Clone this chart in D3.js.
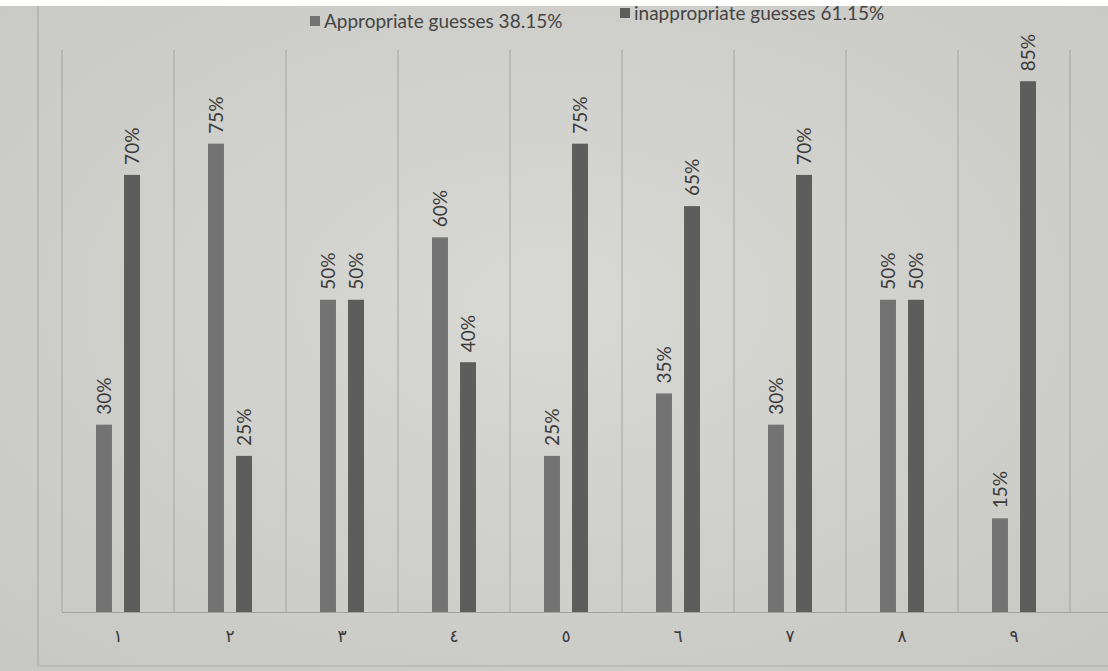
<!DOCTYPE html>
<html>
<head>
<meta charset="utf-8">
<script src="https://cdn.jsdelivr.net/npm/d3@7"></script>
<style>
  html, body { margin: 0; padding: 0; background: #cfcfcb; }
  svg { display: block; }
</style>
</head>
<body>
<svg id="chart" width="1108" height="671"></svg>
<script>
// Question numbers (Arabic-Indic digits) and the share of each answer type
const categories = ['١', '٢', '٣', '٤', '٥', '٦', '٧', '٨', '٩'];
const appropriate = [30, 75, 50, 60, 25, 35, 30, 50, 15];
const inappropriate = [70, 25, 50, 40, 75, 65, 70, 50, 85];
const seriesNames = ['Appropriate guesses 38.15%', 'inappropriate guesses 61.15%'];
const seriesColors = ['#737373', '#5d5d5d'];

const W = 1108, H = 671;
const svg = d3.select('#chart');
const font = 'Lato, "Open Sans", sans-serif';

// paper background with a slightly lighter middle
const defs = svg.append('defs');
const grad = defs.append('radialGradient').attr('id', 'paper')
  .attr('cx', '50%').attr('cy', '45%').attr('r', '70%');
grad.append('stop').attr('offset', '0%').attr('stop-color', '#d8d8d4');
grad.append('stop').attr('offset', '100%').attr('stop-color', '#c8c8c4');
svg.append('rect').attr('width', W).attr('height', H).attr('fill', 'url(#paper)');

// white strip along the top edge
svg.append('rect').attr('x', 0).attr('y', 0).attr('width', W).attr('height', 6).attr('fill', '#ffffff');

const plot = { left: 62, right: 1070, top: 50, bottom: 612 };

const x0 = d3.scaleBand().domain(categories).range([plot.left, plot.right]).padding(0);
const mid = x0.bandwidth() / 2;
const x1 = d3.scaleBand().domain([0, 1]).range([mid - 22, mid + 22]).paddingInner(0.43).paddingOuter(0);
const y = d3.scaleLinear().domain([0, 90]).range([plot.bottom, plot.top]);

// outer frame of the chart
svg.append('line').attr('x1', 38).attr('x2', 38).attr('y1', 6).attr('y2', 666)
  .attr('stroke', '#a9a9a6').attr('stroke-width', 1.2);
svg.append('line').attr('x1', 38).attr('x2', W).attr('y1', 666).attr('y2', 666)
  .attr('stroke', '#a9a9a6').attr('stroke-width', 1.2);

// category separators
const seps = categories.map(c => x0(c)).concat([plot.right]);
svg.append('g').selectAll('line').data(seps).join('line')
  .attr('x1', d => d).attr('x2', d => d)
  .attr('y1', plot.top).attr('y2', plot.bottom)
  .attr('stroke', '#a3a3a0').attr('stroke-width', 1);

// category axis
const xAxis = d3.axisBottom(x0).tickSize(0).tickPadding(18);
const gx = svg.append('g').attr('transform', `translate(0,${plot.bottom})`).call(xAxis);
gx.select('.domain').attr('stroke', '#a3a3a0').attr('stroke-width', 1.2)
  .attr('d', `M${plot.left},0.5H${W}`);
gx.selectAll('text').attr('font-family', '"Noto Sans", "DejaVu Sans", sans-serif')
  .attr('font-size', 17).attr('fill', '#3a3a3a');

// bars and value labels
const rows = categories.map((c, i) => ({ cat: c, vals: [appropriate[i], inappropriate[i]] }));
const groups = svg.append('g').selectAll('g').data(rows).join('g')
  .attr('transform', d => `translate(${x0(d.cat)},0)`);

groups.selectAll('rect').data(d => d.vals.map((v, s) => ({ v, s }))).join('rect')
  .attr('x', d => x1(d.s)).attr('width', x1.bandwidth())
  .attr('y', d => y(d.v)).attr('height', d => y(0) - y(d.v))
  .attr('fill', d => seriesColors[d.s]);

groups.selectAll('text').data(d => d.vals.map((v, s) => ({ v, s }))).join('text')
  .attr('transform', d => `translate(${x1(d.s) + x1.bandwidth() / 2},${y(d.v) - 10}) rotate(-90)`)
  .attr('dy', '0.35em')
  .attr('text-anchor', 'start')
  .attr('font-family', font).attr('font-size', 19).attr('fill', '#3b3b3b')
  .text(d => d.v + '%');

// legend
const legendPos = [[310, 28], [620, 20]];
const lg = svg.append('g').selectAll('g').data(seriesNames).join('g')
  .attr('transform', (d, i) => `translate(${legendPos[i][0]},${legendPos[i][1]})`);
lg.append('rect').attr('x', 0).attr('y', -12).attr('width', 10).attr('height', 10)
  .attr('fill', (d, i) => seriesColors[i]);
lg.append('text').attr('x', 14).attr('y', 0)
  .attr('font-family', font).attr('font-size', 19).attr('fill', '#444')
  .text(d => d);
</script>
</body>
</html>
